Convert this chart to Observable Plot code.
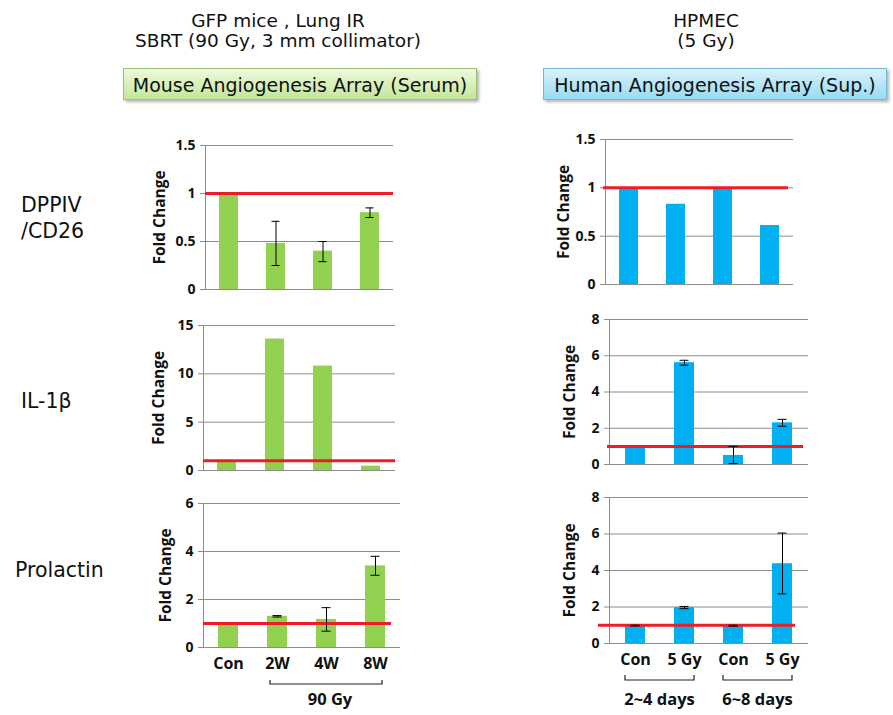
<!DOCTYPE html>
<html><head><meta charset="utf-8">
<script src="https://cdn.jsdelivr.net/npm/d3@7"></script>
<script src="https://cdn.jsdelivr.net/npm/@observablehq/plot@0.6"></script>
<style>
html,body{margin:0;padding:0;background:#fff;}
#page{position:relative;width:893px;height:715px;overflow:hidden;background:#fff;}
.abs{position:absolute;}
.title{font-family:"DejaVu Sans",sans-serif;font-size:18.5px;line-height:20px;color:#111;text-align:center;white-space:nowrap;}
.box{font-family:"DejaVu Sans",sans-serif;font-size:19px;line-height:30px;padding-top:1px;text-align:center;box-sizing:border-box;color:#111;box-shadow:2px 2px 3px rgba(0,0,0,.3);white-space:nowrap;}
.row{font-family:"DejaVu Sans",sans-serif;font-size:20.5px;line-height:26px;height:26px;color:#111;white-space:nowrap;}
.panel svg text{fill:#111;}
</style></head><body>
<div id="page">
  <div class="abs title" style="left:78px;top:10.5px;width:400px;">GFP mice , Lung IR<br>SBRT (90 Gy, 3 mm collimator)</div>
  <div class="abs title" style="left:506px;top:10.5px;width:400px;">HPMEC<br>(5 Gy)</div>
  <div class="abs box" style="left:123px;top:68px;width:354px;height:32px;border:1px solid #9fbf72;background:linear-gradient(#eefadd,#c3e69a);">Mouse Angiogenesis Array (Serum)</div>
  <div class="abs box" style="left:543px;top:68px;width:344px;height:32px;border:1px solid #72b8d2;background:linear-gradient(#d8f3fc,#98daf2);">Human Angiogenesis Array (Sup.)</div>
  <div class="abs row" style="left:21px;top:192px;">DPPIV</div>
  <div class="abs row" style="left:21px;top:218px;">/CD26</div>
  <div class="abs row" style="left:21px;top:388px;">IL-1β</div>
  <div class="abs row" style="left:15px;top:557px;">Prolactin</div>
</div>
<script>
// ---- data ----
const mouseCategories = ["Con", "2W", "4W", "8W"];
const mouseTickLabels = ["Con", "2W", "4W", "8W"];
const cellCategories = ["Con (2~4 d)", "5 Gy (2~4 d)", "Con (6~8 d)", "5 Gy (6~8 d)"];
const cellTickLabels = ["Con", "5 Gy", "Con", "5 Gy"];

const mouseDPPIV = [1.0, 0.48, 0.40, 0.80];
const mouseDPPIVLow = [null, 0.25, 0.29, 0.75];
const mouseDPPIVHigh = [null, 0.71, 0.50, 0.85];

const mouseIL1b = [1.0, 13.6, 10.8, 0.45];

const mouseProlactin = [1.0, 1.30, 1.17, 3.40];
const mouseProlactinLow = [null, 1.27, 0.68, 3.01];
const mouseProlactinHigh = [null, 1.33, 1.66, 3.80];

const cellDPPIV = [1.0, 0.83, 1.0, 0.61];

const cellIL1b = [1.0, 5.62, 0.50, 2.30];
const cellIL1bLow = [null, 5.48, 0.05, 2.11];
const cellIL1bHigh = [null, 5.75, 1.0, 2.49];

const cellProlactin = [1.0, 1.97, 0.98, 4.37];
const cellProlactinLow = [0.96, 1.91, 0.95, 2.72];
const cellProlactinHigh = [1.0, 2.03, 1.0, 6.05];

const ticksDPPIV = [0, 0.5, 1, 1.5];
const ticksMouseIL1b = [0, 5, 10, 15];
const ticksMouseProlactin = [0, 2, 4, 6];
const ticksCell = [0, 2, 4, 6, 8];

const baselineValue = 1;
const yLabel = "Fold Change";

const mouseGroupLabels = ["90 Gy"];
const mouseGroupFrom = ["2W"];
const mouseGroupTo = ["8W"];
const cellGroupLabels = ["2~4 days", "6~8 days"];
const cellGroupFrom = ["Con (2~4 d)", "Con (6~8 d)"];
const cellGroupTo = ["5 Gy (2~4 d)", "5 Gy (6~8 d)"];

// ---- styles ----
const GREEN = "#92d050", BLUE = "#00b0f0", RED = "#ee1c25", GRID = "#8c8c8c";

function bracketMark(labels, from, to, o) {
  return (index, scales) => {
    const x = scales.x, y = scales.y;
    const bw = typeof x.bandwidth === "function" ? x.bandwidth() : 0;
    const y0 = y(0);
    const g = d3.create("svg:g");
    labels.forEach((lab, i) => {
      const x1 = x(from[i]) + o.in, x2 = x(to[i]) + bw - o.in;
      g.append("path")
        .attr("d", `M${x1},${y0 + o.top}V${y0 + o.bottom}H${x2}V${y0 + o.top}`)
        .attr("fill", "none").attr("stroke", "#222").attr("stroke-width", 1.2);
      g.append("text").attr("x", (x1 + x2) / 2 + (o.textDx || 0)).attr("y", y0 + o.text)
        .attr("text-anchor", "middle").attr("font-size", 16.5).attr("font-weight", "bold")
        .attr("fill", "#111").text(lab);
    });
    return g.node();
  };
}

function panel(p) {
  const data = p.cats.map((c, i) => ({
    cat: c, value: p.values[i],
    lo: p.lo ? p.lo[i] : null, hi: p.hi ? p.hi[i] : null
  }));
  const err = data.filter(d => d.lo != null);
  const marks = [
    Plot.ruleY(p.yTicks, {stroke: GRID, strokeWidth: 1}),
    Plot.barY(data, {x: "cat", y: "value", fill: p.fill}),
    Plot.ruleY([baselineValue], {stroke: RED, strokeWidth: 3, insetLeft: p.redL || 0, insetRight: p.redR || 0}),
    Plot.ruleX(err, {x: "cat", y1: "lo", y2: "hi", stroke: "#000", strokeWidth: 1}),
    Plot.tickY(err, {x: "cat", y: "lo", stroke: "#000", strokeWidth: 1, insetLeft: 5.5, insetRight: 5.5}),
    Plot.tickY(err, {x: "cat", y: "hi", stroke: "#000", strokeWidth: 1, insetLeft: 5.5, insetRight: 5.5})
  ];
  if (p.groups) marks.push(bracketMark(p.groups[0], p.groups[1], p.groups[2], p.groupOffsets));
  const svg = Plot.plot({
    width: p.width, height: p.height,
    marginTop: p.mt, marginRight: p.mr, marginBottom: p.mb, marginLeft: p.ml,
    style: {fontFamily: '"Open Sans", sans-serif', fontSize: "14px", fontWeight: "bold",
            color: GRID, background: "transparent", overflow: "visible"},
    x: {domain: p.cats, paddingInner: 0.6, paddingOuter: 0.3,
        axis: p.tickLabels ? "bottom" : null, tickSize: 0, tickPadding: 10, label: null,
        tickFormat: p.tickLabels ? (d => p.tickLabels[p.cats.indexOf(d)]) : undefined},
    y: {domain: [0, p.yTicks[p.yTicks.length - 1]], ticks: p.yTicks, tickFormat: d => String(d),
        tickSize: 5, tickPadding: 5, label: yLabel, labelAnchor: "center", labelArrow: "none",
        labelOffset: p.labelOffset, line: true},
    marks
  });
  d3.select(svg).selectAll("text").each(function() {
    const t = this.textContent;
    if (t.includes(yLabel)) {
      d3.select(this).selectAll("tspan").remove();
      d3.select(this).text(yLabel).attr("font-size", 15.5);
    } else if (p.tickLabels && p.tickLabels.includes(t)) d3.select(this).attr("font-size", 16);
  });
  const div = document.createElement("div");
  div.className = "abs panel";
  div.style.left = p.left + "px";
  div.style.top = p.top + "px";
  div.style.width = p.width + "px";
  div.style.height = p.height + "px";
  div.appendChild(svg);
  document.getElementById("page").appendChild(div);
}

panel({left: 110, top: 125, width: 295, height: 174, mt: 20, mr: 12, mb: 10, ml: 95,
  cats: mouseCategories, values: mouseDPPIV, lo: mouseDPPIVLow, hi: mouseDPPIVHigh,
  yTicks: ticksDPPIV, fill: GREEN, labelOffset: 52});
panel({left: 110, top: 305, width: 295, height: 175, mt: 20, mr: 10, mb: 10, ml: 93,
  cats: mouseCategories, values: mouseIL1b,
  yTicks: ticksMouseIL1b, fill: GREEN, labelOffset: 50.5});
panel({left: 110, top: 483, width: 300, height: 232, mt: 20, mr: 10, mb: 68, ml: 93,
  cats: mouseCategories, tickLabels: mouseTickLabels, values: mouseProlactin,
  lo: mouseProlactinLow, hi: mouseProlactinHigh,
  yTicks: ticksMouseProlactin, fill: GREEN, labelOffset: 44, redR: 9,
  groups: [mouseGroupLabels, mouseGroupFrom, mouseGroupTo],
  groupOffsets: {top: 33, bottom: 37, text: 58, in: 3, textDx: 4}});
panel({left: 510, top: 119, width: 293, height: 175, mt: 20, mr: 10, mb: 10, ml: 95,
  cats: cellCategories, values: cellDPPIV,
  yTicks: ticksDPPIV, fill: BLUE, labelOffset: 48, redL: -2, redR: 5});
panel({left: 510, top: 299, width: 308, height: 175, mt: 20, mr: 10, mb: 10, ml: 99,
  cats: cellCategories, values: cellIL1b, lo: cellIL1bLow, hi: cellIL1bHigh,
  yTicks: ticksCell, fill: BLUE, labelOffset: 46, redL: -2, redR: 5});
panel({left: 510, top: 477, width: 308, height: 238, mt: 20, mr: 10, mb: 72, ml: 99,
  cats: cellCategories, tickLabels: cellTickLabels, values: cellProlactin,
  lo: cellProlactinLow, hi: cellProlactinHigh,
  yTicks: ticksCell, fill: BLUE, labelOffset: 46, redL: -11, redR: 13,
  groups: [cellGroupLabels, cellGroupFrom, cellGroupTo],
  groupOffsets: {top: 32, bottom: 37, text: 62, in: 0}});
</script>
</body></html>
